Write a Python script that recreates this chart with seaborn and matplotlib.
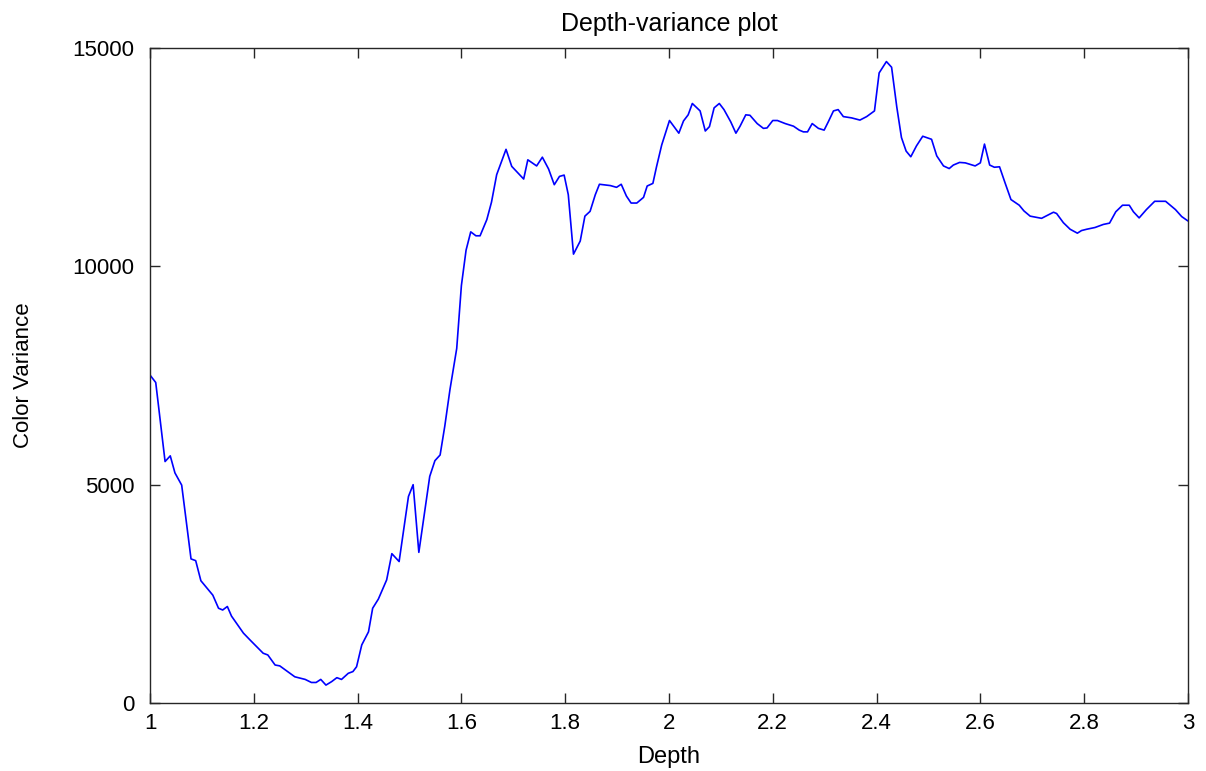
import pandas as pd
import seaborn as sns
import matplotlib.pyplot as plt

# Values
depth = [
    1.000, 1.011, 1.029, 1.039, 1.048, 1.061, 1.079, 1.088, 1.098, 1.121,
    1.132, 1.140, 1.149, 1.157, 1.180, 1.193, 1.218, 1.227, 1.241, 1.250,
    1.279, 1.299, 1.311, 1.320, 1.329, 1.339, 1.350, 1.360, 1.369, 1.382,
    1.391, 1.398, 1.408, 1.421, 1.429, 1.440, 1.456, 1.466, 1.480, 1.498,
    1.507, 1.518, 1.539, 1.549, 1.559, 1.568, 1.578, 1.591, 1.600, 1.609,
    1.618, 1.628, 1.636, 1.649, 1.658, 1.668, 1.686, 1.697, 1.720, 1.728,
    1.745, 1.756, 1.768, 1.779, 1.789, 1.798, 1.806, 1.816, 1.829, 1.838,
    1.848, 1.858, 1.866, 1.887, 1.899, 1.908, 1.918, 1.927, 1.938, 1.951,
    1.958, 1.969, 1.976, 1.986, 2.001, 2.019, 2.028, 2.037, 2.045, 2.060,
    2.070, 2.078, 2.087, 2.097, 2.106, 2.119, 2.129, 2.137, 2.148, 2.156,
    2.170, 2.182, 2.189, 2.200, 2.209, 2.224, 2.240, 2.251, 2.259, 2.267,
    2.276, 2.288, 2.299, 2.307, 2.317, 2.326, 2.336, 2.352, 2.368, 2.381,
    2.396, 2.405, 2.419, 2.429, 2.439, 2.448, 2.457, 2.466, 2.477, 2.489,
    2.506, 2.516, 2.529, 2.540, 2.548, 2.560, 2.571, 2.590, 2.600, 2.608,
    2.618, 2.627, 2.637, 2.648, 2.659, 2.675, 2.684, 2.696, 2.718, 2.731,
    2.741, 2.747, 2.760, 2.773, 2.787, 2.795, 2.805, 2.821, 2.837, 2.849,
    2.861, 2.874, 2.887, 2.895, 2.906, 2.920, 2.936, 2.957, 2.976, 2.988,
    3.000,
]
variance = [
    7510, 7340, 5530, 5660, 5270, 4990, 3300, 3260, 2800, 2470,
    2170, 2130, 2210, 1990, 1600, 1440, 1140, 1100, 870, 850,
    600, 540, 470, 470, 540, 410, 490, 580, 540, 680,
    720, 830, 1330, 1630, 2170, 2380, 2820, 3420, 3240, 4730,
    5000, 3450, 5190, 5550, 5680, 6340, 7180, 8120, 9560, 10370,
    10790, 10700, 10700, 11070, 11470, 12100, 12680, 12290, 12000, 12440,
    12300, 12500, 12230, 11870, 12060, 12090, 11640, 10280, 10580, 11150,
    11260, 11640, 11880, 11850, 11810, 11880, 11610, 11450, 11450, 11580,
    11840, 11900, 12280, 12780, 13340, 13050, 13330, 13470, 13730, 13560,
    13100, 13200, 13630, 13730, 13590, 13310, 13050, 13210, 13470, 13460,
    13270, 13160, 13170, 13340, 13340, 13270, 13210, 13120, 13080, 13080,
    13270, 13160, 13120, 13310, 13560, 13590, 13430, 13400, 13350, 13430,
    13560, 14430, 14690, 14560, 13650, 12950, 12640, 12510, 12760, 12980,
    12910, 12530, 12300, 12240, 12320, 12380, 12370, 12300, 12370, 12800,
    12320, 12270, 12280, 11900, 11530, 11400, 11270, 11150, 11100, 11180,
    11240, 11210, 11000, 10850, 10760, 10820, 10850, 10890, 10960, 10990,
    11250, 11400, 11400, 11250, 11110, 11300, 11490, 11490, 11300, 11140,
    11040,
]
x_ticks = [1, 1.2, 1.4, 1.6, 1.8, 2, 2.2, 2.4, 2.6, 2.8, 3]
x_tick_labels = ["1", "1.2", "1.4", "1.6", "1.8", "2", "2.2", "2.4", "2.6", "2.8", "3"]
y_ticks = [0, 5000, 10000, 15000]

df = pd.DataFrame({"Depth": depth, "Color Variance": variance})

sns.set_theme(style="ticks")
plt.rcParams["font.family"] = ["Liberation Sans", "DejaVu Sans"]

fig = plt.figure(figsize=(12.06, 7.71), dpi=100)
ax = fig.add_axes([0.1244, 0.0882, 0.8606, 0.8495])

sns.lineplot(data=df, x="Depth", y="Color Variance", ax=ax,
             color="#0000ff", linewidth=1.2, sort=False)

ax.set_xlim(1, 3)
ax.set_ylim(0, 15000)
ax.set_xticks(x_ticks)
ax.set_xticklabels(x_tick_labels)
ax.set_yticks(y_ticks)

for side in ["top", "right", "bottom", "left"]:
    ax.spines[side].set_visible(True)
    ax.spines[side].set_color("#262626")
    ax.spines[side].set_linewidth(1.0)
ax.tick_params(direction="in", length=7, width=1.0, top=True, right=True,
               labelsize=16, colors="#262626", labelcolor="black")
ax.tick_params(axis="x", pad=7)
ax.tick_params(axis="y", pad=11)

ax.set_title("Depth-variance plot", fontsize=18, pad=12, color="black")
ax.set_xlabel("Depth", fontsize=17, labelpad=9, color="black")
ax.set_ylabel("Color Variance", fontsize=16, color="black",
              family=["Liberation Sans Narrow", "Liberation Sans"], labelpad=28)

fig.savefig("out.png", dpi=100)
